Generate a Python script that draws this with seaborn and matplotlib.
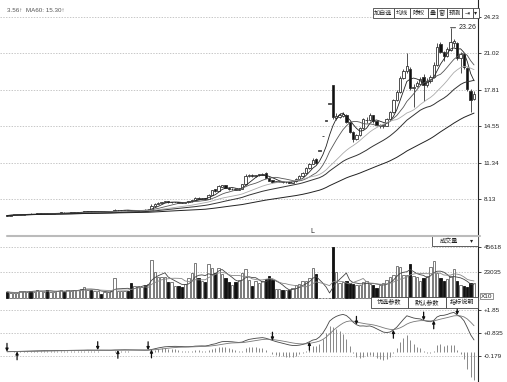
import matplotlib
matplotlib.use('Agg')
import matplotlib.pyplot as plt
from matplotlib.patches import Rectangle
from matplotlib.lines import Line2D
import seaborn as sns
import numpy as np
import pandas as pd

opens = [6.75, 6.70, 6.73, 6.74, 6.77, 6.78, 6.80, 6.86, 6.80, 6.82,
         6.85, 6.87, 6.92, 6.85, 6.87, 6.89, 6.91, 6.96, 6.90, 6.92,
         6.95, 6.97, 6.99, 7.01, 7.05, 7.09, 7.02, 7.04, 7.08, 7.01,
         7.03, 7.05, 7.08, 7.15, 7.16, 7.17, 7.21, 7.15, 7.09, 7.12,
         7.16, 7.23, 7.16, 7.23, 7.55, 7.72, 7.82, 7.88, 7.95, 7.85,
         7.87, 7.92, 7.85, 7.80, 7.85, 7.95, 8.05, 8.27, 8.18, 8.25,
         8.15, 8.55, 9.00, 8.85, 9.25, 9.35, 9.15, 9.00, 9.08, 8.98,
         9.08, 9.45, 10.15, 10.30, 10.15, 10.25, 10.30, 10.45, 10.05, 9.80,
         9.65, 9.68, 9.72, 9.62, 9.68, 9.58, 9.70, 9.95, 10.20, 10.45,
         10.85, 11.25, 11.70, 12.43, 13.67, 15.04, 16.54, 18.19, 15.30, 15.40,
         15.50, 15.60, 14.95, 14.10, 13.45, 13.80, 14.40, 15.10, 15.10, 15.55,
         15.00, 14.55, 14.60, 14.60, 15.20, 15.80, 16.90, 17.60, 18.80, 19.40,
         19.60, 17.95, 18.10, 18.30, 18.90, 18.20, 18.60, 18.90, 20.00, 21.80,
         21.10, 20.80, 21.30, 21.90, 21.90, 20.60, 20.90, 19.70, 17.70, 17.00]
closes = [6.70, 6.73, 6.76, 6.78, 6.80, 6.82, 6.84, 6.80, 6.83, 6.86,
          6.88, 6.90, 6.85, 6.88, 6.90, 6.92, 6.95, 6.90, 6.93, 6.96,
          6.98, 7.00, 7.02, 7.06, 7.08, 7.02, 7.05, 7.07, 7.01, 7.04,
          7.06, 7.08, 7.20, 7.17, 7.18, 7.20, 7.14, 7.09, 7.13, 7.17,
          7.21, 7.16, 7.23, 7.55, 7.75, 7.84, 7.89, 7.93, 7.85, 7.88,
          7.90, 7.84, 7.80, 7.86, 7.95, 8.06, 8.26, 8.18, 8.23, 8.15,
          8.55, 8.92, 8.85, 9.30, 9.35, 9.15, 9.00, 9.06, 8.98, 9.06,
          9.45, 10.15, 10.25, 10.15, 10.25, 10.32, 10.40, 10.05, 9.75, 9.65,
          9.70, 9.72, 9.62, 9.66, 9.58, 9.70, 9.95, 10.20, 10.45, 10.85,
          11.25, 11.62, 11.30, 12.43, 13.67, 15.04, 16.54, 15.40, 15.50, 15.55,
          15.65, 14.95, 14.10, 13.45, 13.80, 14.40, 15.20, 15.12, 15.60, 15.00,
          14.70, 14.65, 14.62, 15.20, 15.80, 16.90, 17.60, 18.80, 19.40, 19.90,
          17.95, 18.05, 18.40, 18.70, 18.20, 18.60, 18.90, 20.00, 21.60, 21.10,
          20.80, 21.40, 22.00, 22.10, 20.60, 20.90, 19.80, 17.90, 16.90, 17.40]
highs = [6.78, 6.75, 6.78, 6.80, 6.83, 6.84, 6.86, 6.88, 6.85, 6.89,
         6.90, 6.92, 6.94, 6.90, 6.92, 6.94, 6.97, 6.98, 6.95, 6.98,
         7.00, 7.03, 7.05, 7.10, 7.10, 7.11, 7.07, 7.09, 7.09, 7.06,
         7.08, 7.10, 7.28, 7.20, 7.20, 7.22, 7.22, 7.16, 7.15, 7.19,
         7.23, 7.24, 7.25, 7.70, 7.80, 7.88, 7.92, 7.96, 7.97, 7.90,
         7.93, 7.93, 7.86, 7.88, 7.98, 8.10, 8.35, 8.30, 8.26, 8.27,
         8.60, 8.98, 9.05, 9.38, 9.42, 9.38, 9.18, 9.10, 9.10, 9.09,
         9.50, 10.40, 10.32, 10.35, 10.30, 10.38, 10.45, 10.50, 10.08, 9.85,
         9.73, 9.75, 9.74, 9.69, 9.70, 9.73, 9.98, 10.25, 10.50, 10.95,
         11.35, 11.75, 11.80, 12.43, 13.67, 15.04, 16.54, 18.19, 15.70, 15.75,
         15.80, 15.65, 15.00, 14.15, 13.90, 14.50, 15.30, 15.40, 15.70, 15.60,
         15.05, 14.80, 14.80, 15.30, 15.90, 17.00, 17.80, 19.00, 19.60, 21.00,
         19.80, 18.30, 18.60, 18.90, 19.20, 18.80, 19.10, 20.20, 21.90, 22.00,
         21.20, 21.60, 23.26, 22.30, 22.00, 21.10, 21.00, 19.80, 17.90, 17.70]
lows = [6.68, 6.69, 6.72, 6.73, 6.76, 6.77, 6.79, 6.79, 6.79, 6.81,
        6.84, 6.86, 6.84, 6.84, 6.86, 6.88, 6.90, 6.89, 6.89, 6.91,
        6.94, 6.96, 6.98, 7.00, 7.03, 7.00, 7.01, 7.03, 7.00, 7.00,
        7.02, 7.04, 7.07, 7.13, 7.14, 7.16, 7.13, 7.07, 7.08, 7.11,
        7.15, 7.14, 7.15, 7.22, 7.52, 7.70, 7.80, 7.86, 7.83, 7.83,
        7.85, 7.82, 7.78, 7.79, 7.84, 7.93, 8.03, 8.15, 8.16, 8.12,
        8.14, 8.52, 8.80, 8.83, 9.20, 9.10, 8.95, 8.97, 8.95, 8.96,
        9.05, 9.42, 10.08, 10.10, 10.12, 10.20, 10.28, 10.00, 9.70, 9.60,
        9.62, 9.66, 9.60, 9.60, 9.55, 9.56, 9.68, 9.92, 10.15, 10.40,
        10.80, 11.20, 11.20, 12.43, 13.67, 15.04, 16.54, 15.20, 15.10, 15.30,
        15.40, 14.85, 14.00, 13.20, 13.35, 13.75, 14.35, 14.90, 15.00, 14.90,
        14.60, 14.45, 14.40, 14.55, 15.15, 15.75, 16.80, 17.50, 18.70, 19.30,
        17.80, 16.30, 18.00, 18.20, 16.80, 18.00, 18.40, 18.80, 19.90, 21.00,
        20.30, 20.70, 21.20, 21.60, 20.40, 19.30, 19.60, 17.70, 15.80, 16.90]
volumes = [5900, 5000, 5200, 4800, 6800, 6500, 6000, 6800, 6000, 7700,
           6500, 6000, 7700, 5900, 5500, 6200, 7700, 5900, 7200, 7000,
           7600, 7700, 8000, 10300, 7800, 7700, 6800, 6500, 4200, 5900,
           5800, 6200, 17800, 6800, 6500, 6900, 6800, 13400, 10700, 11000,
           10500, 12100, 12500, 33500, 23000, 19000, 18500, 19000, 14600, 14600,
           11300, 11300, 10400, 13000, 18000, 22000, 30800, 18000, 15000, 14900,
           30000, 26500, 22600, 27000, 21500, 18000, 14900, 11500, 14900, 16000,
           22700, 26000, 16000, 11300, 15500, 14000, 15500, 17500, 20000, 16500,
           8000, 8200, 7200, 7500, 7200, 9500, 11500, 13000, 15500, 15500,
           18000, 26500, 21700, 800, 600, 500, 700, 45618, 23000, 14000,
           14500, 15000, 14000, 12500, 11800, 11500, 14500, 15500, 13000, 11800,
           9000, 12000, 13500, 16000, 18500, 20500, 28200, 27500, 20500, 21000,
           30000, 19500, 18500, 15500, 18000, 19500, 27500, 32800, 22000, 18400,
           15000, 17500, 19500, 26000, 15800, 11900, 11000, 10400, 13900, 13300]

price_ticks = [24.23, 21.02, 17.81, 14.55, 11.34, 8.13]
vol_ticks = [45618, 23035]
macd_ticks = [1.85, 0.835, -0.179]
macd_labels = ['+1.85', '+0.835', '-0.179']
cross_down = [0, 27, 42, 79, 104, 124, 134]
cross_up = [3, 33, 43, 90, 115, 127]
top_buttons = ['加自选', '均线', '除权', '叠', '窗', '预测', '⇥', '▾']
top_edges = [373, 394, 410, 428, 437, 447, 462, 473, 479]
macd_buttons = ['优选参数', '默认参数', '指标说明']
macd_edges = [371, 408, 446, 478]

sns.set_style('white')
plt.rcParams['font.family'] = ['Liberation Sans', 'DejaVu Sans']
CJK = ['Noto Sans CJK SC', 'DejaVu Sans']

df = pd.DataFrame(dict(open=opens, close=closes, high=highs, low=lows, vol=volumes))
df['x'] = np.arange(len(df))
for n in (5, 10, 20, 30, 60):
    df[f'ma{n}'] = df['close'].rolling(n, min_periods=1).mean()
df['vma5'] = df['vol'].rolling(5, min_periods=1).mean()
df['vma10'] = df['vol'].rolling(10, min_periods=1).mean()
ema12 = df['close'].ewm(span=12, adjust=False).mean()
ema26 = df['close'].ewm(span=26, adjust=False).mean()
df['dif'] = ema12 - ema26
df['dea'] = df['dif'].ewm(span=9, adjust=False).mean()
df['hist'] = 2 * (df['dif'] - df['dea'])
up = (df['close'] >= df['open']).values

W, H = 507, 382
fig = plt.figure(figsize=(W / 100, H / 100), dpi=100)


def box(top, bottom):
    return [0, 1 - bottom / H, 478 / W, (bottom - top) / H]


ax1 = fig.add_axes(box(0, 235))
ax2 = fig.add_axes(box(236, 300))
ax3 = fig.add_axes(box(300, 382))

# candles
ax1.vlines(df['x'], df['low'], df['high'], color='#333', lw=0.6, zorder=2)
body = (df['close'] - df['open']).abs().clip(lower=0.06)
ax1.bar(df['x'], body, bottom=np.minimum(df['open'], df['close']), width=0.7,
        color=np.where(up, 'white', '#111'), edgecolor='#333', linewidth=0.6, zorder=3)
ma_styles = {'ma5': ('#222', 0.6), 'ma10': ('#555', 0.6), 'ma20': ('#aaa', 0.6),
             'ma30': ('#333', 0.7), 'ma60': ('#222', 0.7)}
for col, (c, lw) in ma_styles.items():
    sns.lineplot(data=df, x='x', y=col, ax=ax1, color=c, lw=lw, zorder=4)
ax1.annotate('23.26', xy=(132, 23.26), xytext=(6, 0), textcoords='offset points',
             va='center', fontsize=5, color='#222',
             arrowprops=dict(arrowstyle='-', lw=0.6, color='#222', shrinkA=0, shrinkB=0))
ax1.text(7 / 478, 1 - 11 / 235, '3.56↑  MA60: 15.30↑', transform=ax1.transAxes,
         fontsize=4.5, color='#555', va='center')
ax1.text(90.8, 5.33, 'L', fontsize=5, color='#222', ha='center', va='center')

# volume
ax2.bar(df['x'], df['vol'], width=0.7, color=np.where(up, 'white', '#111'),
        edgecolor=np.where(up, '#666', '#111'), linewidth=0.6, zorder=3)
sns.lineplot(data=df, x='x', y='vma5', ax=ax2, color='#444', lw=0.6, zorder=4)
sns.lineplot(data=df, x='x', y='vma10', ax=ax2, color='#888', lw=0.6, zorder=4)

# macd
ax3.vlines(df['x'], 0, df['hist'], color='#888', lw=0.7, zorder=2)
sns.lineplot(data=df, x='x', y='dif', ax=ax3, color='#444', lw=0.6, zorder=3)
sns.lineplot(data=df, x='x', y='dea', ax=ax3, color='#777', lw=0.6, zorder=3)
for i in cross_down:
    ax3.annotate('', xy=(i, df['dif'][i]), xytext=(0, 6), textcoords='offset points',
                 arrowprops=dict(arrowstyle='-|>', color='#111', lw=0.9, mutation_scale=4,
                                 shrinkA=0, shrinkB=0))
for i in cross_up:
    ax3.annotate('', xy=(i, df['dif'][i]), xytext=(0, -6), textcoords='offset points',
                 arrowprops=dict(arrowstyle='-|>', color='#111', lw=0.9, mutation_scale=4,
                                 shrinkA=0, shrinkB=0))

limits = [(ax1, (4.982, 25.705), price_ticks, [f'{t:.2f}' for t in price_ticks]),
          (ax2, (-1320, 54940), vol_ticks, [str(t) for t in vol_ticks]),
          (ax3, (-1.347, 2.298), macd_ticks, macd_labels)]
for ax, ylim, ticks, labels in limits:
    ax.set_xlim(-2.08, 140.18)
    ax.set_ylim(*ylim)
    ax.set_yticks(ticks)
    ax.set_yticklabels(labels)
    ax.yaxis.tick_right()
    ax.set_xticks([])
    ax.set_xlabel('')
    ax.set_ylabel('')
    ax.tick_params(axis='y', length=2.5, width=0.6, pad=1.5, labelsize=4.6, colors='#222')
    ax.grid(axis='y', color='#b0b0b0', lw=0.5, ls=(0, (2, 2)))
    ax.set_facecolor('none')
    for s in ('top', 'left', 'bottom'):
        ax.spines[s].set_visible(False)
    ax.spines['right'].set_color('#222')
    ax.spines['right'].set_linewidth(0.8)


def fx(px):
    return px / W


def fy(py):
    return 1 - py / H


fig.add_artist(Line2D([fx(7), fx(480)], [fy(235.5)] * 2, color='#bbb', lw=1.5))


def button(x0, x1, y0, y1, label, size, family=CJK):
    fig.add_artist(Rectangle((fx(x0), fy(y1)), (x1 - x0) / W, (y1 - y0) / H,
                             transform=fig.transFigure, fc='white', ec='#444', lw=0.6))
    fig.text(fx((x0 + x1) / 2), fy((y0 + y1) / 2), label, ha='center', va='center',
             fontsize=size, family=family, color='#222')


for k, lab in enumerate(top_buttons):
    fam = ['DejaVu Sans'] if lab in ('⇥', '▾') else CJK
    button(top_edges[k], top_edges[k + 1], 8, 18, lab, 4.4, fam)
for k, lab in enumerate(macd_buttons):
    button(macd_edges[k], macd_edges[k + 1], 297, 308, lab, 4.4)

fig.add_artist(Rectangle((fx(432), fy(246)), 46 / W, 10 / H, transform=fig.transFigure,
                         fc='white', ec='#444', lw=0.6))
fig.text(fx(449), fy(241), '成交量', ha='center', va='center', fontsize=4.4, family=CJK, color='#222')
fig.text(fx(472), fy(241), '▾', ha='center', va='center', fontsize=4.4, family=['DejaVu Sans'], color='#222')
fig.text(fx(481), fy(296), 'X10', ha='left', va='center', fontsize=4.6, color='#222',
         bbox=dict(boxstyle='square,pad=0.15', fc='white', ec='#666', lw=0.5))

fig.savefig('out.png', dpi=100)
